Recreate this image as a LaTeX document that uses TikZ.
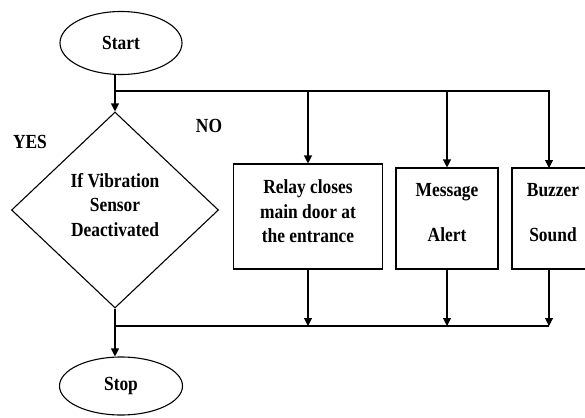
\documentclass[tikz,border=0pt]{standalone}
\usepackage{fontspec}
\setmainfont{Liberation Serif}
\newfontfamily\chartfont[FakeStretch=0.87]{Liberation Serif}
\usetikzlibrary{arrows.meta, positioning, shapes.geometric}

\begin{document}
\begin{tikzpicture}[
  x=1pt, y=-1pt,
  every node/.style={font=\chartfont\fontsize{20}{24.5}\selectfont\bfseries, align=center},
  terminal/.style={draw, ellipse, line width=1.1pt, inner sep=0pt},
  decision/.style={draw, diamond, line width=1.1pt, inner sep=0pt,
    minimum width=207pt, minimum height=196pt},
  action/.style={draw, rectangle, line width=1.1pt, inner sep=2pt},
  line/.style={line width=1.1pt},
  arrow/.style={line, -{Triangle[length=8pt, width=8pt]}},
]
  \useasboundingbox (0,0) rectangle (585,417);

  % Terminals
  \node[terminal, minimum width=122pt, minimum height=63pt] (start) at (121,43) {Start};
  \node[terminal, minimum width=123pt, minimum height=58pt] (stop) at (121,386) {Stop};

  % Decision
  \node[decision, label={[yshift=5pt]center:If Vibration\\Sensor\\Deactivated}]
    (dec) at (115,210) {};
  \node (yes) at (30,142) {YES};
  \node (no) at (209,126) {NO};

  % Actions
  \node[action, minimum width=149pt, minimum height=105pt,
    label={[yshift=5pt]center:Relay closes\\main door at\\the entrance}]
    (relay) at (308,216.5) {};
  \node[action, minimum width=102pt, minimum height=101pt,
    label={[yshift=6pt]center:Message\\[20pt]Alert}]
    (msg) at (447,218.5) {};
  \node[action, minimum width=78pt, minimum height=101pt,
    label={[yshift=6pt, xshift=2pt]center:Buzzer\\[20pt]Sound}]
    (buzz) at (551,218.5) {};

  % Split and join points
  \coordinate (split) at (115,91);
  \coordinate (join) at (115,326);

  % Top branch
  \draw[line] (split |- start.south) -- (split);
  \draw[arrow] (split) -- (dec.north);
  \draw[arrow] (split) -| (549,91) -- (549,168);
  \draw[arrow] (split -| relay) -- (relay.north);
  \draw[arrow] (split -| msg) -- (msg.north);

  % Bottom branch
  \draw[line] (dec.south) -- (join);
  \draw[line] (join) -- (549,326);
  \draw[arrow] (relay.south) -- (relay.south |- join);
  \draw[arrow] (msg.south) -- (msg.south |- join);
  \draw[arrow] (549,269) -- (549,326);
  \draw[arrow] (join) -- (join |- stop.north);

\end{tikzpicture}
\end{document}
